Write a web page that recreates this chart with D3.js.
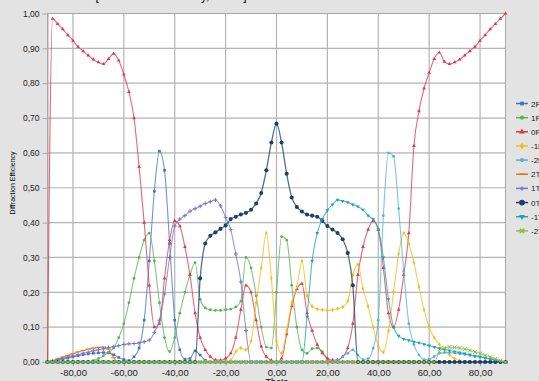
<!DOCTYPE html>
<html>
<head>
<meta charset="utf-8">
<script src="https://cdn.jsdelivr.net/npm/d3@7"></script>
<style>
  body { margin: 0; background: #e3e3e3; }
  text { font-family: "Liberation Sans", Arial, sans-serif; }
</style>
</head>
<body>
<svg id="chart" width="539" height="381"></svg>
<script>
// angle samples (degrees)
const theta = [
  -90, -88, -86, -84, -82, -80, -78, -76, -74, -72,
  -70, -68, -66, -64, -62, -60, -58, -56, -54, -52,
  -50, -48, -46, -44, -42, -40, -38, -36, -34, -32,
  -30, -28, -26, -24, -22, -20, -18, -16, -14, -12,
  -10, -8, -6, -4, -2, 0, 2, 4, 6, 8,
  10, 12, 14, 16, 18, 20, 22, 24, 26, 28,
  30, 32, 34, 36, 38, 40, 42, 44, 46, 48,
  50, 52, 54, 56, 58, 60, 62, 64, 66, 68,
  70, 72, 74, 76, 78, 80, 82, 84, 86, 88,
  90
];

const r2 = [
  0, 0.002, 0.005, 0.008, 0.011, 0.015, 0.018, 0.021, 0.023, 0.025,
  0.026, 0.027, 0.026, 0.021, 0.013, 0.007, 0.004, 0.015, 0.04, 0.12,
  0.29, 0.49, 0.605, 0.55, 0.34, 0.12, 0.035, 0.008, 0.01, 0.032,
  0.02, 0.005, 0, 0, 0, 0, 0, 0, 0, 0,
  0, 0, 0, 0, 0, 0, 0, 0, 0, 0,
  0, 0, 0, 0, 0, 0, 0, 0, 0, 0,
  0, 0, 0, 0, 0, 0, 0, 0, 0, 0,
  0, 0, 0, 0, 0, 0, 0, 0, 0, 0,
  0, 0, 0, 0, 0, 0, 0, 0, 0, 0,
  0
];
const r1 = [
  0, 0, 0, 0, 0, 0, 0, 0, 0, 0.004,
  0.01, 0.018, 0.028, 0.04, 0.07, 0.11, 0.17, 0.24, 0.3, 0.35,
  0.37, 0.29, 0.17, 0.07, 0.03, 0.07, 0.14, 0.2, 0.25, 0.285,
  0.18, 0.155, 0.15, 0.148, 0.148, 0.15, 0.152, 0.158, 0.175, 0.3,
  0.27, 0.19, 0.1, 0.043, 0.04, 0.2, 0.36, 0.35, 0.22, 0.1,
  0.035, 0.025, 0.038, 0.04, 0.03, 0.01, 0, 0, 0, 0,
  0, 0, 0, 0, 0, 0, 0, 0, 0, 0,
  0, 0, 0, 0, 0, 0, 0, 0, 0, 0,
  0, 0, 0, 0, 0, 0, 0, 0, 0, 0,
  0
];
const r0 = [
  0, 0.985, 0.97, 0.955, 0.938, 0.922, 0.905, 0.892, 0.88, 0.868,
  0.86, 0.855, 0.87, 0.885, 0.865, 0.825, 0.775, 0.7, 0.56, 0.4,
  0.22, 0.1, 0.11, 0.24, 0.35, 0.405, 0.39, 0.33, 0.25, 0.14,
  0.07, 0.035, 0.015, 0.006, 0.005, 0.01, 0.025, 0.07, 0.15, 0.22,
  0.2, 0.12, 0.045, 0.015, 0.005, 0, 0.01, 0.08, 0.16, 0.21,
  0.225, 0.14, 0.09, 0.05, 0.025, 0.01, 0.005, 0.006, 0.015, 0.04,
  0.11, 0.25, 0.33, 0.38, 0.405, 0.38, 0.27, 0.14, 0.1, 0.15,
  0.25, 0.37, 0.62, 0.72, 0.785, 0.83, 0.87, 0.888, 0.862, 0.855,
  0.86, 0.868, 0.88, 0.892, 0.905, 0.922, 0.938, 0.955, 0.97, 0.985,
  1.0
];
const rm1 = [
  0, 0, 0, 0, 0, 0, 0, 0, 0, 0,
  0, 0, 0, 0, 0, 0, 0, 0, 0, 0,
  0, 0, 0, 0, 0, 0, 0, 0, 0, 0,
  0, 0, 0, 0, 0, 0, 0.005, 0.03, 0.04, 0.035,
  0.06, 0.17, 0.27, 0.37, 0.24, 0.06, 0.025, 0.09, 0.17, 0.215,
  0.29, 0.19, 0.16, 0.152, 0.15, 0.148, 0.15, 0.153, 0.158, 0.175,
  0.25, 0.28, 0.21, 0.16, 0.1, 0.045, 0.028, 0.09, 0.2, 0.31,
  0.37, 0.34, 0.285, 0.215, 0.15, 0.1, 0.07, 0.05, 0.035, 0.02,
  0.01, 0.004, 0, 0, 0, 0, 0, 0, 0, 0,
  0
];
const rm2 = [
  0, 0, 0, 0, 0, 0, 0, 0, 0, 0,
  0, 0, 0, 0, 0, 0, 0, 0, 0, 0,
  0, 0, 0, 0, 0, 0, 0, 0, 0, 0,
  0, 0, 0, 0, 0, 0, 0, 0, 0, 0,
  0, 0, 0, 0, 0, 0, 0, 0, 0, 0,
  0, 0, 0, 0, 0, 0, 0, 0.005, 0.015, 0.025,
  0.035, 0.02, 0.007, 0.01, 0.04, 0.12, 0.42, 0.6, 0.59, 0.44,
  0.26, 0.11, 0.05, 0.02, 0.007, 0.008, 0.016, 0.025, 0.027, 0.027,
  0.026, 0.024, 0.022, 0.019, 0.016, 0.014, 0.011, 0.008, 0.005, 0.002,
  0
];
const t2 = [
  0, 0.004, 0.009, 0.014, 0.019, 0.024, 0.029, 0.033, 0.037, 0.04,
  0.042, 0.043, 0.037, 0.012, 0, 0, 0, 0, 0, 0,
  0, 0, 0, 0, 0, 0, 0, 0, 0, 0,
  0, 0, 0, 0, 0, 0, 0, 0, 0, 0,
  0, 0, 0, 0, 0, 0, 0, 0, 0, 0,
  0, 0, 0, 0, 0, 0, 0, 0, 0, 0,
  0, 0, 0, 0, 0, 0, 0, 0, 0, 0,
  0, 0, 0, 0, 0, 0, 0, 0, 0, 0,
  0, 0, 0, 0, 0, 0, 0, 0, 0, 0,
  0
];
const t1 = [
  0, 0.003, 0.007, 0.01, 0.014, 0.017, 0.021, 0.025, 0.028, 0.032,
  0.035, 0.038, 0.041, 0.044, 0.047, 0.05, 0.052, 0.053, 0.055, 0.058,
  0.063, 0.085, 0.12, 0.195, 0.3, 0.39, 0.41, 0.42, 0.433, 0.44,
  0.447, 0.455, 0.46, 0.465, 0.448, 0.415, 0.38, 0.31, 0.23, 0.09,
  0, 0, 0, 0, 0, 0, 0, 0, 0, 0,
  0, 0, 0, 0, 0, 0, 0, 0, 0, 0,
  0, 0, 0, 0, 0, 0, 0, 0, 0, 0,
  0, 0, 0, 0, 0, 0, 0, 0, 0, 0,
  0, 0, 0, 0, 0, 0, 0, 0, 0, 0,
  0
];
const t0 = [
  0, 0, 0, 0, 0, 0, 0, 0, 0, 0,
  0, 0, 0, 0, 0, 0, 0, 0, 0, 0,
  0, 0, 0, 0, 0, 0, 0, 0, 0, 0,
  0.24, 0.34, 0.362, 0.372, 0.382, 0.392, 0.41, 0.417, 0.423, 0.428,
  0.437, 0.455, 0.485, 0.55, 0.63, 0.684, 0.63, 0.54, 0.472, 0.445,
  0.432, 0.423, 0.42, 0.417, 0.405, 0.39, 0.38, 0.37, 0.352, 0.313,
  0.22, 0, 0, 0, 0, 0, 0, 0, 0, 0,
  0, 0, 0, 0, 0, 0, 0, 0, 0, 0,
  0, 0, 0, 0, 0, 0, 0, 0, 0, 0,
  0
];
const tm1 = [
  0, 0, 0, 0, 0, 0, 0, 0, 0, 0,
  0, 0, 0, 0, 0, 0, 0, 0, 0, 0,
  0, 0, 0, 0, 0, 0, 0, 0, 0, 0,
  0, 0, 0, 0, 0, 0, 0, 0, 0, 0,
  0, 0, 0, 0, 0, 0, 0, 0, 0, 0,
  0, 0.13, 0.29, 0.37, 0.41, 0.435, 0.452, 0.465, 0.462, 0.458,
  0.452, 0.446, 0.437, 0.42, 0.41, 0.38, 0.3, 0.18, 0.1, 0.075,
  0.066, 0.062, 0.058, 0.055, 0.051, 0.047, 0.043, 0.039, 0.036, 0.033,
  0.03, 0.027, 0.024, 0.021, 0.018, 0.015, 0.012, 0.009, 0.006, 0.003,
  0
];
const tm2 = [
  0, 0, 0, 0, 0, 0, 0, 0, 0, 0,
  0, 0, 0, 0, 0, 0, 0, 0, 0, 0,
  0, 0, 0, 0, 0, 0, 0, 0, 0, 0,
  0, 0, 0, 0, 0, 0, 0, 0, 0, 0,
  0, 0, 0, 0, 0, 0, 0, 0, 0, 0,
  0, 0, 0, 0, 0, 0, 0, 0, 0, 0,
  0, 0, 0, 0, 0, 0, 0, 0, 0, 0,
  0, 0, 0, 0, 0, 0, 0, 0.03, 0.04, 0.043,
  0.042, 0.04, 0.037, 0.033, 0.029, 0.024, 0.019, 0.014, 0.009, 0.004,
  0
];

const seriesNames = ['2R', '1R', '0R', '-1R', '-2R', '2T', '1T', '0T', '-1T', '-2T'];
const seriesValues = [r2, r1, r0, rm1, rm2, t2, t1, t0, tm1, tm2];
const xTicks = [-80, -60, -40, -20, 0, 20, 40, 60, 80];
const yTicks = [0, 0.1, 0.2, 0.3, 0.4, 0.5, 0.6, 0.7, 0.8, 0.9, 1.0];

// look of each series
const styles = [
  { color: '#4470c8', sym: d3.symbolSquare, size: 7 },
  { color: '#55b455', sym: d3.symbolCircle, size: 6 },
  { color: '#e0354c', sym: d3.symbolTriangle, size: 6 },
  { color: '#f2bd12', sym: d3.symbolDiamond, size: 6 },
  { color: '#52b0e2', sym: d3.symbolCircle, size: 6 },
  { color: '#e2731c', path: 'M-2.5,0H2.5', size: 0 },
  { color: '#7474cc', path: 'M-2,0H2M0,-2V2', size: 0 },
  { color: '#1f3f68', sym: d3.symbolCircle, size: 13 },
  { color: '#1ca3b4', sym: d3.symbolTriangle, size: 6, rot: 180 },
  { color: '#92bc44', path: 'M-2,-2L2,2M-2,2L2,-2', size: 0 }
];

const fmt = v => v.toFixed(2).replace('.', ',');

const svg = d3.select('#chart');
const plotLeft = 47.5, plotRight = 505.5, plotTop = 13.5, plotBottom = 362;

const x = d3.scaleLinear().domain([-90, 90]).range([plotLeft, plotRight]);
const y = d3.scaleLinear().domain([0, 1]).range([plotBottom, plotTop]);

// title, mostly cut off by the top edge
svg.append('text')
  .attr('x', 171).attr('y', -0.5)
  .attr('text-anchor', 'middle')
  .style('font-size', '12px')
  .text('[Diffraction Efficiency, Theta]');

// plot area
svg.append('rect')
  .attr('x', plotLeft).attr('y', plotTop)
  .attr('width', plotRight - plotLeft).attr('height', plotBottom - plotTop)
  .attr('fill', '#fff');

// grid
svg.append('g').selectAll('line')
  .data(yTicks.slice(1))
  .enter().append('line')
  .attr('x1', plotLeft).attr('x2', plotRight)
  .attr('y1', d => y(d)).attr('y2', d => y(d))
  .attr('stroke', '#b4b4b4').attr('stroke-width', 1.2);

svg.append('g').selectAll('line')
  .data(xTicks)
  .enter().append('line')
  .attr('x1', d => x(d)).attr('x2', d => x(d))
  .attr('y1', plotTop).attr('y2', plotBottom)
  .attr('stroke', '#b4b4b4').attr('stroke-width', 1.2);

svg.append('rect')
  .attr('x', plotLeft).attr('y', plotTop)
  .attr('width', plotRight - plotLeft).attr('height', plotBottom - plotTop)
  .attr('fill', 'none').attr('stroke', '#a8a8a8');

// axes
const yAxis = d3.axisLeft(y).tickValues(yTicks).tickFormat(fmt).tickSizeInner(5).tickSizeOuter(0).tickPadding(3);
const xAxis = d3.axisBottom(x).tickValues(xTicks).tickFormat(fmt).tickSizeInner(4).tickSizeOuter(0).tickPadding(3);

function styleAxis(g) {
  g.select('.domain').attr('stroke', '#a8a8a8');
  g.selectAll('.tick line').attr('stroke', '#a8a8a8');
  g.selectAll('.tick text').attr('fill', '#222').style('font-family', '"Liberation Sans", Arial, sans-serif');
}

svg.append('g')
  .attr('transform', 'translate(' + plotLeft + ',0)')
  .call(yAxis)
  .call(styleAxis)
  .selectAll('.tick text').style('font-size', '8.5px');

svg.append('g')
  .attr('transform', 'translate(0,' + plotBottom + ')')
  .call(xAxis)
  .call(styleAxis)
  .selectAll('.tick text').style('font-size', '9.5px');

// axis titles
svg.append('text')
  .attr('transform', 'translate(15,183) rotate(-90)')
  .attr('text-anchor', 'middle')
  .style('font-size', '7px')
  .text('Diffraction Efficiency');

svg.append('text')
  .attr('x', 277).attr('y', 385)
  .attr('text-anchor', 'middle')
  .style('font-size', '9px')
  .text('Theta');

// series
const line = d3.line()
  .x((d, i) => x(theta[i]))
  .y(d => y(d))
  .curve(d3.curveMonotoneX);

function marker(st) {
  if (st.path) return st.path;
  return d3.symbol().type(st.sym).size(st.size)();
}

const plot = svg.append('g');
seriesValues.forEach((vals, k) => {
  const st = styles[k];
  const g = plot.append('g');
  g.append('path')
    .datum(vals)
    .attr('d', line)
    .attr('fill', 'none')
    .attr('stroke', st.color)
    .attr('stroke-opacity', 0.75)
    .attr('stroke-width', k === 7 ? 1.3 : 1.1);
  g.selectAll('path.m')
    .data(vals)
    .enter().append('path')
    .attr('class', 'm')
    .attr('d', marker(st))
    .attr('transform', (d, i) => 'translate(' + x(theta[i]) + ',' + y(d) + ')' + (st.rot ? ' rotate(' + st.rot + ')' : ''))
    .attr('fill', st.path ? 'none' : st.color)
    .attr('stroke', st.path ? st.color : 'none')
    .attr('stroke-width', 1);
});

// legend (cut off by the right edge)
const legend = svg.append('g');
seriesNames.forEach((name, k) => {
  const st = styles[k];
  const ly = 103.5 + k * 14.15;
  legend.append('line')
    .attr('x1', 516).attr('x2', 528)
    .attr('y1', ly).attr('y2', ly)
    .attr('stroke', st.color).attr('stroke-width', 1.5);
  legend.append('path')
    .attr('d', st.path ? st.path : d3.symbol().type(st.sym).size(k === 7 ? 26 : 14)())
    .attr('transform', 'translate(522,' + ly + ')' + (st.rot ? ' rotate(' + st.rot + ')' : ''))
    .attr('fill', st.path ? 'none' : st.color)
    .attr('stroke', st.path ? st.color : 'none')
    .attr('stroke-width', 1.5);
  legend.append('text')
    .attr('x', 531).attr('y', ly + 3)
    .style('font-size', '8px')
    .attr('fill', '#222')
    .text(name);
});
</script>
</body>
</html>
